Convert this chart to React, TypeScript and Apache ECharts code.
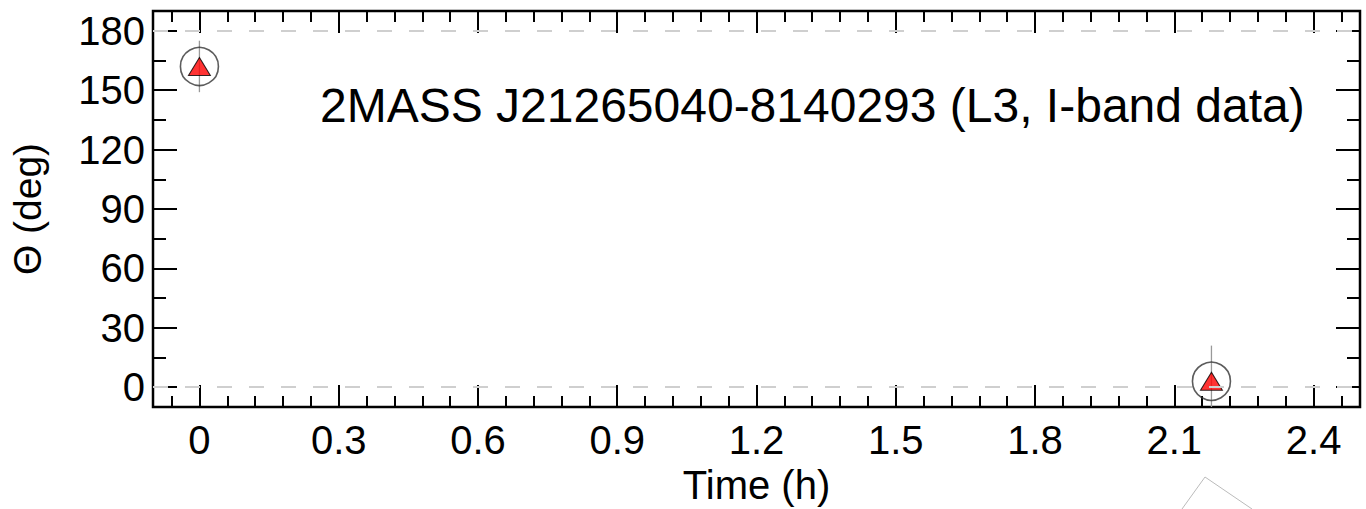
import React, { useEffect, useRef } from "react";
import * as echarts from "echarts";

// Data
const times = [0, 2.18];
const theta = [162, 3];
const thetaErr = [13, 18];

// Axis ticks
const xLabels = [0, 0.3, 0.6, 0.9, 1.2, 1.5, 1.8, 2.1, 2.4];
const xMinor = [-0.06, 0.06, 0.12, 0.18, 0.24, 0.36, 0.42, 0.48, 0.54, 0.66, 0.72, 0.78, 0.84, 0.96, 1.02, 1.08, 1.14, 1.26, 1.32, 1.38, 1.44, 1.56, 1.62, 1.68, 1.74, 1.86, 1.92, 1.98, 2.04, 2.16, 2.22, 2.28, 2.34, 2.46];
const yLabels = [0, 30, 60, 90, 120, 150, 180];
const yMinor = [15, 45, 75, 105, 135, 165];
const refLines = [0, 180];

const FONT = "'Liberation Sans', Arial, Helvetica, sans-serif";

export default function App() {
  const ref = useRef<HTMLDivElement>(null);
  useEffect(() => {
    document.body.style.margin = "0";
    const chart = echarts.init(ref.current!, null, { renderer: "svg" });
    const hiddenLine = { show: false, onZero: false };
    const xBase = { type: "value", min: -0.1, max: 2.5, splitLine: { show: false }, axisLine: hiddenLine };
    const yBase = { type: "value", min: -10, max: 190, splitLine: { show: false }, axisLine: hiddenLine };
    const tick = (vals: number[], len: number) => ({
      show: true, inside: true, length: len, customValues: vals,
      lineStyle: { color: "#000", width: 2 },
    });
    const noLabel = { show: false };
    const option: any = {
      animation: false,
      grid: {
        left: 153, right: 6, top: 11, bottom: 102,
        outerBoundsMode: "none", containLabel: false,
        show: true, borderColor: "#000", borderWidth: 2.5, backgroundColor: "transparent",
      },
      xAxis: [
        {
          ...xBase, position: "bottom",
          axisTick: tick(xLabels, 22),
          axisLabel: { customValues: xLabels, color: "#000", fontSize: 40, fontFamily: FONT, margin: 13, formatter: (v: number) => String(v) },
          name: "Time (h)", nameLocation: "middle", nameGap: 54,
          nameTextStyle: { color: "#000", fontSize: 40, fontFamily: FONT },
        },
        { ...xBase, position: "bottom", axisTick: tick(xMinor, 11), axisLabel: noLabel },
        { ...xBase, position: "top", axisTick: tick(xLabels, 22), axisLabel: noLabel },
        { ...xBase, position: "top", axisTick: tick(xMinor, 11), axisLabel: noLabel },
      ],
      yAxis: [
        {
          ...yBase, position: "left",
          axisTick: tick(yLabels, 24),
          axisLabel: { customValues: yLabels, color: "#000", fontSize: 40, fontFamily: FONT, margin: 8 },
          name: "Θ (deg)", nameLocation: "middle", nameGap: 106, nameRotate: 90,
          nameTextStyle: { color: "#000", fontSize: 39, fontFamily: FONT },
        },
        { ...yBase, position: "left", axisTick: tick(yMinor, 13), axisLabel: noLabel },
        { ...yBase, position: "right", axisTick: tick(yLabels, 24), axisLabel: noLabel },
        { ...yBase, position: "right", axisTick: tick(yMinor, 13), axisLabel: noLabel },
      ],
      series: [
        {
          type: "custom",
          clip: true,
          data: times.map((t, i) => [t, theta[i] - thetaErr[i], theta[i] + thetaErr[i]]),
          renderItem: (params: any, api: any) => {
            const lo = api.coord([api.value(0), api.value(1)]);
            const hi = api.coord([api.value(0), api.value(2)]);
            return {
              type: "line",
              shape: { x1: lo[0], y1: lo[1], x2: hi[0], y2: hi[1] },
              style: { stroke: "#999", lineWidth: 1.3 },
            };
          },
          z: 1,
        },
        {
          type: "scatter",
          data: times.map((t, i) => [t, theta[i]]),
          symbol: "circle",
          symbolSize: 38,
          itemStyle: { color: "rgba(255,255,255,0)", borderColor: "#333", borderWidth: 1.6 },
          markLine: {
            silent: true,
            symbol: ["none", "none"],
            label: { show: false },
            lineStyle: { color: "#cfcfcf", type: [15, 17], width: 2 },
            data: refLines.map((v) => ({ yAxis: v })),
          },
          z: 2,
        },
        {
          type: "scatter",
          data: times.map((t, i) => [t, theta[i]]),
          symbol: "triangle",
          symbolSize: [22, 18],
          itemStyle: { color: "#ff0000", borderColor: "#000", borderWidth: 1 },
          z: 3,
        },
      ],
      graphic: [
        {
          type: "text",
          left: 320,
          top: 81,
          style: { text: "2MASS J21265040-8140293 (L3, I-band data)", fontSize: 48, fontFamily: FONT, fill: "#000" },
        },
        {
          type: "polyline",
          shape: { points: [[1182, 509], [1205, 477], [1252, 509]] },
          style: { stroke: "#bbb", lineWidth: 1, fill: "none" },
        },
      ],
    };
    chart.setOption(option);
    return () => chart.dispose();
  }, []);
  return <div ref={ref} style={{ width: 1366, height: 509 }} />;
}
